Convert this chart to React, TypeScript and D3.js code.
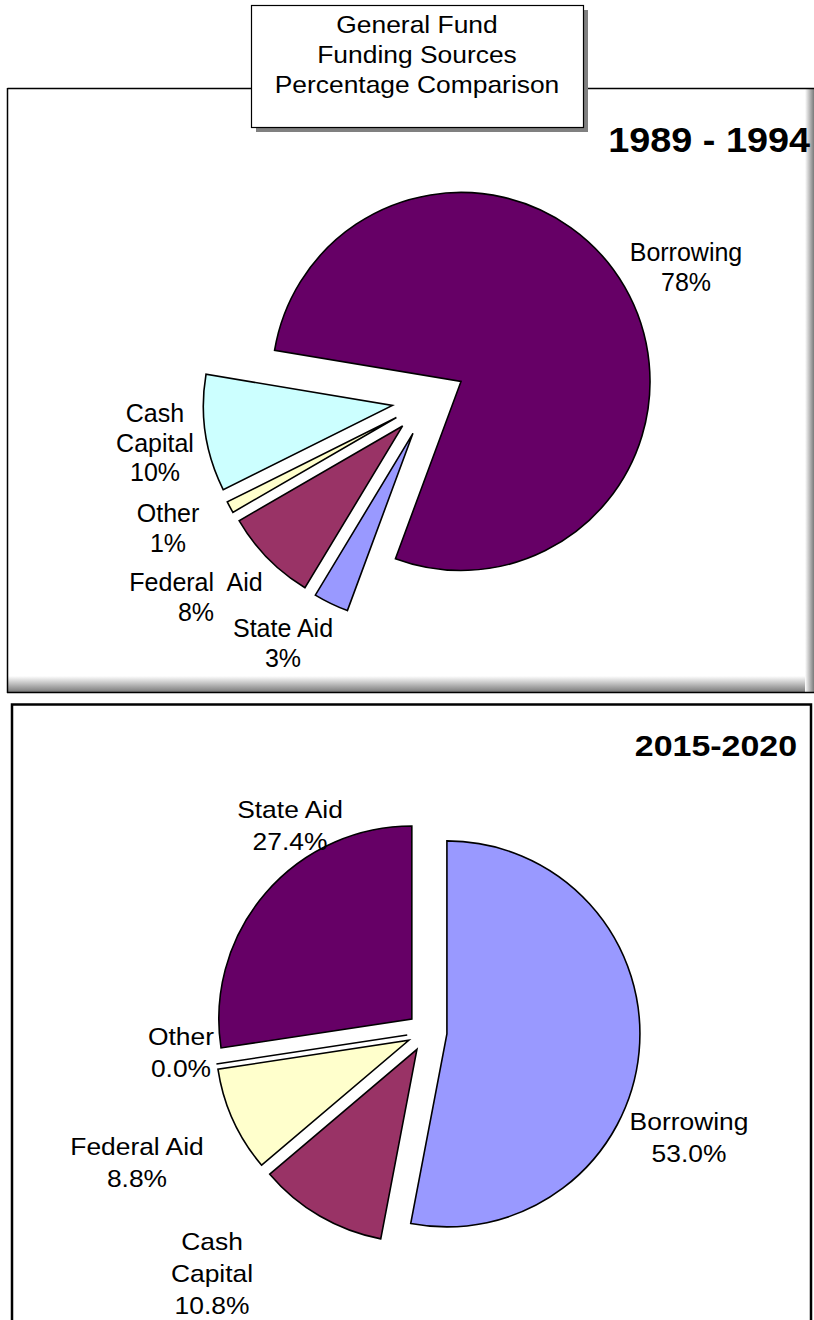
import React from "react";
import * as d3 from "d3";

// ---------- DATA ----------
const titleLines = ["General Fund", "Funding Sources", "Percentage Comparison"];

const topPeriod = "1989 - 1994";
const topCategories = ["Borrowing", "State Aid", "Federal Aid", "Other", "Cash Capital"];
const topValues = [78, 3, 8, 1, 10];
const topNameLines = [["Borrowing"], ["State Aid"], ["Federal  Aid"], ["Other"], ["Cash", "Capital"]];

const bottomPeriod = "2015-2020";
const bottomCategories = ["Borrowing", "Cash Capital", "Federal Aid", "Other", "State Aid"];
const bottomValues = [53.0, 10.8, 8.8, 0.0, 27.4];
const bottomNameLines = [["Borrowing"], ["Cash", "Capital"], ["Federal Aid"], ["Other"], ["State Aid"]];

// ---------- STYLE / LAYOUT ----------
const colorMap: Record<string, string> = {
  "Borrowing|top": "#660066",
  "State Aid|top": "#9999FF",
  "Federal Aid|top": "#993366",
  "Other|top": "#FFFFCC",
  "Cash Capital|top": "#CCFFFF",
  "Borrowing|bottom": "#9999FF",
  "Cash Capital|bottom": "#993366",
  "Federal Aid|bottom": "#FFFFCC",
  "Other|bottom": "#FFFFCC",
  "State Aid|bottom": "#660066",
};

const FONT = "'Liberation Sans', Arial, Helvetica, sans-serif";

const topLayout = {
  cx: 429, cy: 400, r: 189, explode: 37, startDeg: -80.5,
  fontSize: 25, lineH: 29.5, sx: 1,
  labels: [
    [686, 261],
    [283, 637],
    [196, 591],
    [168, 522],
    [155, 422],
  ],
};

const bottomLayout = {
  cx: 427, cy: 1032, r: 193, explode: 20, startDeg: 0,
  fontSize: 24, lineH: 32, sx: 1.1,
  labels: [
    [689, 1130],
    [212, 1250],
    [137, 1155],
    [181, 1045],
    [290, 818],
  ],
};

type Layout = typeof topLayout;

function Pie({ cats, vals, nameLines, layout, which, fmt }: {
  cats: string[]; vals: number[]; nameLines: string[][]; layout: Layout; which: string; fmt: (v: number) => string;
}) {
  const a0 = (layout.startDeg * Math.PI) / 180;
  const pie = d3.pie<number>().sort(null).value((d) => d).startAngle(a0).endAngle(a0 + 2 * Math.PI);
  const arcs = pie(vals);
  const arc = d3.arc<d3.PieArcDatum<number>>().innerRadius(0).outerRadius(layout.r);
  return (
    <g>
      {arcs.map((a, i) => {
        const mid = (a.startAngle + a.endAngle) / 2;
        const dx = layout.explode * Math.sin(mid);
        const dy = -layout.explode * Math.cos(mid);
        return (
          <path
            key={cats[i]}
            d={arc(a) || ""}
            transform={`translate(${layout.cx + dx},${layout.cy + dy})`}
            fill={colorMap[`${cats[i]}|${which}`]}
            stroke="#000"
            strokeWidth={1.6}
            strokeLinejoin="miter"
          />
        );
      })}
      {arcs.map((a, i) => {
        const lines = [...nameLines[i], fmt(vals[i])];
        const [lx, ly] = layout.labels[i];
        return (
          <g key={"l" + i}>
            {lines.map((t, j) => (
              <text
                key={j}
                transform={`translate(${lx},${ly + j * layout.lineH}) scale(${layout.sx},1)`}
                textAnchor="middle"
                fontFamily={FONT}
                fontSize={layout.fontSize}
                fill="#000"
                style={{ whiteSpace: "pre" }}
              >
                {t}
              </text>
            ))}
          </g>
        );
      })}
    </g>
  );
}

export default function App() {
  const W = 814;
  const H = 1320;
  return (
    <svg
      width={W}
      height={H}
      viewBox={`0 0 ${W} ${H}`}
      style={{ position: "absolute", left: 0, top: 0, background: "#fff" }}
    >
      <defs>
        <linearGradient id="shadeB" x1="0" y1="0" x2="0" y2="1">
          <stop offset="0" stopColor="#ffffff" />
          <stop offset="1" stopColor="#7a7a7a" />
        </linearGradient>
        <linearGradient id="shadeR" x1="0" y1="0" x2="1" y2="0">
          <stop offset="0" stopColor="#ffffff" />
          <stop offset="1" stopColor="#7a7a7a" />
        </linearGradient>
      </defs>
      <rect x={0} y={0} width={W} height={H} fill="#fff" />

      {/* top panel */}
      <rect x={8} y={89} width={806} height={603} fill="#fff" />
      <rect x={8} y={676} width={806} height={16} fill="url(#shadeB)" />
      <rect x={805} y={89} width={9} height={603} fill="url(#shadeR)" />
      <line x1={7.5} y1={88.5} x2={814} y2={88.5} stroke="#000" strokeWidth={1.5} />
      <line x1={7.5} y1={88} x2={7.5} y2={693} stroke="#000" strokeWidth={1.5} />
      <line x1={7} y1={692.5} x2={814} y2={692.5} stroke="#000" strokeWidth={1.5} />

      {/* bottom panel */}
      <rect x={12} y={704.5} width={799} height={H} fill="#fff" stroke="#000" strokeWidth={2.5} />

      {/* title box */}
      <rect x={256} y={10} width={332} height={122} fill="#808080" />
      <rect x={251.5} y={5.5} width={332} height={122} fill="#fff" stroke="#000" strokeWidth={1.2} />
      {titleLines.map((t, i) => (
        <text
          key={t}
          transform={`translate(417,${33 + i * 30}) scale(1.1,1)`}
          textAnchor="middle"
          fontFamily={FONT}
          fontSize={24}
        >
          {t}
        </text>
      ))}

      <text
        transform="translate(810,152) scale(1.08,1)"
        textAnchor="end"
        fontFamily={FONT}
        fontSize={35}
        fontWeight="bold"
        style={{ whiteSpace: "pre" }}
      >
        {topPeriod}
      </text>
      <text
        transform="translate(797,756) scale(1.17,1)"
        textAnchor="end"
        fontFamily={FONT}
        fontSize={29}
        fontWeight="bold"
      >
        {bottomPeriod}
      </text>

      <Pie
        cats={topCategories}
        vals={topValues}
        nameLines={topNameLines}
        layout={topLayout}
        which="top"
        fmt={(v) => `${v}%`}
      />
      <Pie
        cats={bottomCategories}
        vals={bottomValues}
        nameLines={bottomNameLines}
        layout={bottomLayout}
        which="bottom"
        fmt={(v) => `${v.toFixed(1)}%`}
      />
    </svg>
  );
}
